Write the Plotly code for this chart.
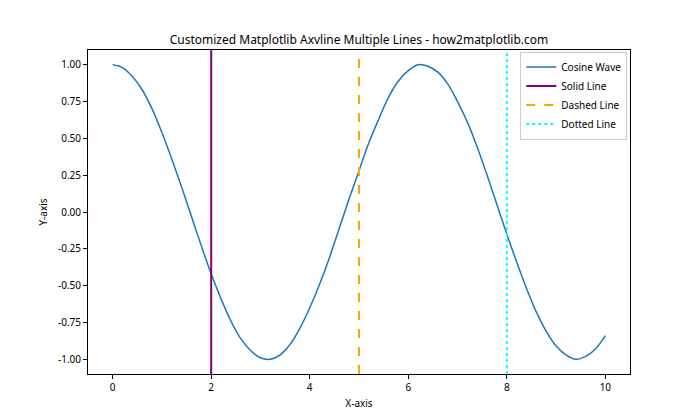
import plotly.graph_objects as go

# Cosine wave samples
x_vals = [0.0, 0.2, 0.4, 0.6, 0.8, 1.0, 1.2, 1.4, 1.6, 1.8, 2.0, 2.2, 2.4, 2.6, 2.8,
          3.0, 3.2, 3.4, 3.6, 3.8, 4.0, 4.2, 4.4, 4.6, 4.8, 5.0, 5.2, 5.4, 5.6, 5.8,
          6.0, 6.2, 6.4, 6.6, 6.8, 7.0, 7.2, 7.4, 7.6, 7.8, 8.0, 8.2, 8.4, 8.6, 8.8,
          9.0, 9.2, 9.4, 9.6, 9.8, 10.0]
y_vals = [1.00, 0.98, 0.92, 0.83, 0.70, 0.54, 0.36, 0.17, -0.03, -0.23, -0.42, -0.59, -0.74, -0.86, -0.94,
          -0.99, -1.00, -0.97, -0.90, -0.79, -0.65, -0.49, -0.31, -0.11, 0.09, 0.28, 0.47, 0.63, 0.78, 0.89,
          0.96, 1.00, 0.99, 0.95, 0.87, 0.75, 0.61, 0.44, 0.25, 0.05, -0.15, -0.34, -0.52, -0.68, -0.81,
          -0.91, -0.97, -1.00, -0.98, -0.93, -0.84]

vline_x = [2, 5, 8]
vline_names = ["Solid Line", "Dashed Line", "Dotted Line"]
vline_colors = ["purple", "orange", "cyan"]
vline_dash = ["solid", "dash", "dot"]

x_ticks = [0, 2, 4, 6, 8, 10]
y_ticks = [-1.0, -0.75, -0.5, -0.25, 0.0, 0.25, 0.5, 0.75, 1.0]

fig = go.Figure()
fig.add_trace(go.Scatter(x=x_vals, y=y_vals, mode="lines", name="Cosine Wave",
                         line=dict(color="#1f77b4", width=1.5, shape="spline", smoothing=1)))

for xv, nm, c, d in zip(vline_x, vline_names, vline_colors, vline_dash):
    fig.add_shape(type="line", x0=xv, x1=xv, y0=0, y1=1, xref="x", yref="paper",
                  line=dict(color=c, width=2, dash=d), showlegend=True, name=nm)

font = "Noto Sans, DejaVu Sans, sans-serif"
fig.update_layout(
    width=700, height=420,
    margin=dict(l=88, r=70, t=50, b=46),
    paper_bgcolor="white", plot_bgcolor="white",
    font=dict(family=font, size=10, color="black"),
    title=dict(text="Customized Matplotlib Axvline Multiple Lines - how2matplotlib.com",
               x=(88 + 630) / 2 / 700, xanchor="center", y=1 - 40 / 420, yanchor="middle",
               font=dict(size=12, color="black")),
    legend=dict(x=0.995, xanchor="right", y=0.995, yanchor="top",
                bordercolor="#cccccc", borderwidth=1, bgcolor="rgba(255,255,255,0.8)",
                font=dict(size=10), tracegroupgap=0, itemwidth=30),
    showlegend=True,
)
fig.update_xaxes(range=[-0.5, 10.5], tickvals=x_ticks, ticktext=[str(t) for t in x_ticks],
                 showgrid=False, zeroline=False, showline=True, linecolor="black", linewidth=1,
                 mirror=True, ticks="outside", ticklen=4, tickcolor="black",
                 title=dict(text="X-axis", font=dict(size=10), standoff=6))
fig.update_yaxes(range=[-1.1, 1.1], tickvals=y_ticks, ticktext=[f"{t:.2f}" for t in y_ticks],
                 showgrid=False, zeroline=False, showline=True, linecolor="black", linewidth=1,
                 mirror=True, ticks="outside", ticklen=4, tickcolor="black",
                 title=dict(text="Y-axis", font=dict(size=10), standoff=8))

fig.write_html("out.html", config={"displayModeBar": False},
               post_script="document.body.style.margin='0';")
